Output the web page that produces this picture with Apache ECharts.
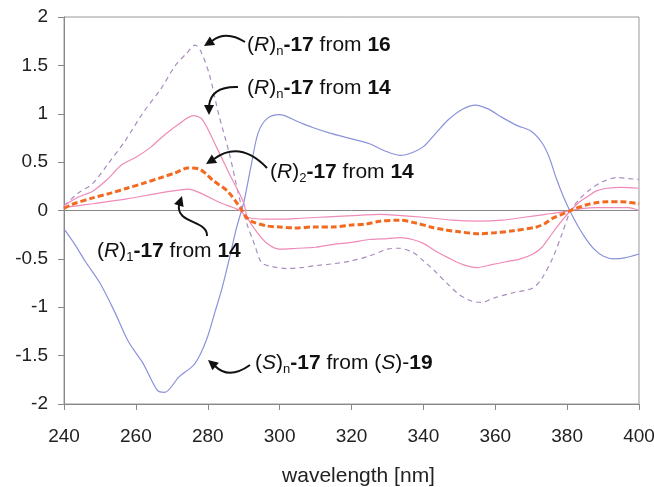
<!DOCTYPE html>
<html>
<head>
<meta charset="utf-8">
<script src="https://cdn.jsdelivr.net/npm/echarts@6/dist/echarts.min.js"></script>
<style>
html,body{margin:0;padding:0;background:#fff;}
#chart{width:654px;height:487px;}
</style>
</head>
<body>
<div id="chart"></div>
<script>
// ---- data ----
const xTicks = [240, 260, 280, 300, 320, 340, 360, 380, 400];
const yTicks = [-2, -1.5, -1, -0.5, 0, 0.5, 1, 1.5, 2];

// (S)n-17 from (S)-19 (blue)
const wlS = [240,243,246,250,254,258,262,266,268,272,276,278,280,282,284,286,288,290,292,294,296.5,300,305,309,314,319,325,329,333.5,337,340,343,347,351,354.5,358,362,366,370,373,375,377,379,381,383,385,387.5,390,393,396,400];
const valS = [-0.19,-0.35,-0.53,-0.75,-1.04,-1.36,-1.58,-1.86,-1.88,-1.72,-1.6,-1.48,-1.3,-1.05,-0.8,-0.5,-0.18,0.08,0.45,0.8,0.95,0.99,0.92,0.86,0.8,0.75,0.69,0.62,0.57,0.6,0.66,0.78,0.94,1.05,1.09,1.05,0.96,0.88,0.82,0.7,0.55,0.33,0.14,-0.02,-0.16,-0.28,-0.4,-0.47,-0.5,-0.49,-0.45];

// (R)n-17 from 16 (purple dashed)
const wlR16 = [240,244,248,252,257,262,267,271,274,276.5,278,280.5,283,286,289,291,293,295,298,302,306,310,315,320,325,330,333,337,340,343,346.5,350,353,356,360,365,370.5,373,376,378.5,381,383.5,386.5,390,394,397,400];
const valR16 = [0.05,0.18,0.28,0.47,0.72,1.01,1.26,1.5,1.62,1.71,1.65,1.4,1.0,0.59,0.1,-0.15,-0.35,-0.54,-0.58,-0.6,-0.59,-0.57,-0.55,-0.52,-0.47,-0.4,-0.39,-0.43,-0.52,-0.62,-0.75,-0.87,-0.93,-0.95,-0.9,-0.85,-0.8,-0.7,-0.49,-0.25,0,0.12,0.22,0.3,0.34,0.33,0.32];

// (R)n-17 from 14 (pink, upper)
const wlRn14 = [240,244,248,252,256,260,264,267,271.5,276,278.5,282.5,286,290,291,294,296.5,300,305,310,315,320,325,330,333.5,337,340,343,347,351,355,359,363,367,370.5,373,375,378,381,383.5,385.5,388,391,395,400];
const valRn14 = [0.05,0.14,0.2,0.32,0.47,0.55,0.65,0.75,0.88,0.98,0.94,0.65,0.38,0.08,-0.07,-0.24,-0.34,-0.4,-0.39,-0.38,-0.35,-0.33,-0.3,-0.29,-0.28,-0.3,-0.34,-0.41,-0.49,-0.56,-0.59,-0.56,-0.53,-0.5,-0.45,-0.38,-0.28,-0.13,0,0.09,0.14,0.2,0.23,0.24,0.23];

// (R)2-17 from 14 (orange dashed)
const wlR2 = [240,242,248,253,257.5,262,267,271,274.5,277.5,279.5,281.5,285.5,289,290.5,292,296.5,300,304,310,315,320,324,328,333.5,338,342,346,350,355.5,360,365,371.5,374,376,378.5,381,383,385.5,388,391,395,400];
const valR2 = [0.02,0.06,0.13,0.18,0.23,0.28,0.34,0.39,0.44,0.43,0.38,0.31,0.2,0.03,-0.06,-0.11,-0.16,-0.17,-0.18,-0.17,-0.17,-0.15,-0.14,-0.11,-0.1,-0.13,-0.17,-0.2,-0.22,-0.24,-0.23,-0.21,-0.17,-0.13,-0.08,-0.04,0,0.03,0.06,0.08,0.09,0.09,0.07];

// (R)1-17 from 14 (pink, lower)
const wlR1 = [240,248,257.5,266.5,272,274.5,278,283.5,289,291,296,301,306,311,316,322,328,333,340,348,355,362,368,374,378,381,384,388,393,397,400];
const valR1 = [0.03,0.07,0.12,0.18,0.21,0.22,0.18,0.08,0,-0.07,-0.09,-0.09,-0.08,-0.07,-0.06,-0.05,-0.04,-0.05,-0.07,-0.1,-0.11,-0.1,-0.07,-0.04,-0.02,0,0.02,0.03,0.03,0.03,0.0];

const xTitle = 'wavelength [nm]';

// ---- chart ----
function zip(a, b) { return a.map((v, i) => [v, b[i]]); }
const FONT = '"Liberation Sans", Arial, Helvetica, sans-serif';

const chart = echarts.init(document.getElementById('chart'), null, {renderer: 'canvas'});

const FS = 21;
const rich = {
  it: {fontStyle: 'italic', fontSize: FS, fontFamily: FONT, fill: '#111'},
  sub: {fontSize: 13, fontFamily: FONT, padding: [12, 0, 0, 0], fill: '#111'},
  b: {fontWeight: 'bold', fontSize: FS, fontFamily: FONT, fill: '#111'}
};
function label(x, y, text) {
  return {
    type: 'text', x: x, y: y, silent: true, z: 100,
    style: {
      text: text, rich: rich, fontSize: FS, fontFamily: FONT, fill: '#111',
      align: 'left', verticalAlign: 'middle', textAlign: 'left', textVerticalAlign: 'middle'
    }
  };
}
function head(tipX, tipY, fromX, fromY) {
  const dx = tipX - fromX, dy = tipY - fromY;
  const L = Math.sqrt(dx*dx + dy*dy) || 1;
  const ux = dx / L, uy = dy / L;
  const len = 10, hw = 5;
  const bx = tipX - ux*len, by = tipY - uy*len;
  return {
    type: 'polygon', silent: true, z: 100,
    shape: {points: [[tipX, tipY], [bx - uy*hw, by + ux*hw], [bx + uy*hw, by - ux*hw]]},
    style: {fill: '#111'}
  };
}
function curveQ(x1, y1, cx, cy, x2, y2) {
  return {type: 'bezierCurve', silent: true, z: 100,
    shape: {x1: x1, y1: y1, x2: x2, y2: y2, cpx1: cx, cpy1: cy},
    style: {stroke: '#111', lineWidth: 2, fill: null}};
}
function curveC(x1, y1, c1x, c1y, c2x, c2y, x2, y2) {
  return {type: 'bezierCurve', silent: true, z: 100,
    shape: {x1: x1, y1: y1, x2: x2, y2: y2, cpx1: c1x, cpy1: c1y, cpx2: c2x, cpy2: c2y},
    style: {stroke: '#111', lineWidth: 2, fill: null}};
}

const graphics = [
  label(247, 45, '({it|R}){sub|n}{b|-17} from {b|16}'),
  curveQ(245, 42, 226, 30, 212, 41), head(204, 46, 212, 41),
  label(247, 88, '({it|R}){sub|n}{b|-17} from {b|14}'),
  curveQ(238, 87, 211, 86, 209, 106), head(209, 115, 209, 106),
  label(270, 172, '({it|R}){sub|2}{b|-17} from {b|14}'),
  curveQ(267, 168, 240, 140, 214, 159), head(206, 164, 214, 159),
  label(97, 251, '({it|R}){sub|1}{b|-17} from {b|14}'),
  curveC(207, 236, 208, 220, 176, 224, 179, 205), head(182, 196, 179, 205),
  label(255, 363, '({it|S}){sub|n}{b|-17} from ({it|S})-{b|19}'),
  curveQ(250, 365, 229, 380, 215, 366), head(208, 360, 215, 366)
];

function lineSeries(name, data, color, width, type, z) {
  return {
    name: name, type: 'line', data: data, showSymbol: false, symbol: 'none',
    smooth: 0.3, z: z, silent: true,
    lineStyle: {color: color, width: width, type: type},
    emphasis: {disabled: true}
  };
}

const option = {
  backgroundColor: '#fff',
  animation: false,
  grid: {left: 64, right: 15, top: 17, bottom: 83, show: true, borderColor: '#999', borderWidth: 1,
    backgroundColor: 'transparent', containLabel: false, outerBoundsMode: 'none'},
  xAxis: {
    type: 'value', min: xTicks[0], max: xTicks[xTicks.length - 1], interval: 20,
    name: xTitle, nameLocation: 'middle', nameGap: 62,
    nameTextStyle: {fontSize: 21, color: '#222', fontFamily: FONT, padding: [0, 0, 0, 14]},
    axisLine: {show: true, onZero: false, lineStyle: {color: '#888', width: 1}},
    axisTick: {show: true, inside: false, length: 6, lineStyle: {color: '#888'}},
    axisLabel: {fontSize: 19, color: '#222', fontFamily: FONT, margin: 23},
    splitLine: {show: false}
  },
  yAxis: {
    type: 'value', min: yTicks[0], max: yTicks[yTicks.length - 1], interval: 0.5,
    axisLine: {show: true, lineStyle: {color: '#888', width: 1}},
    axisTick: {show: true, inside: false, length: 6, lineStyle: {color: '#888'}},
    axisLabel: {fontSize: 19, color: '#222', fontFamily: FONT, margin: 16},
    splitLine: {show: false}
  },
  graphic: graphics,
  series: [
    Object.assign(lineSeries('(S)n-17 from (S)-19', zip(wlS, valS), '#8b92dc', 1.2, 'solid', 2), {
      markLine: {silent: true, symbol: 'none', label: {show: false},
        lineStyle: {color: '#888', width: 1, type: 'solid'}, data: [{yAxis: 0}], z: 1}
    }),
    lineSeries('(R)n-17 from 16', zip(wlR16, valR16), '#a88bbf', 1.2, [5, 4], 3),
    lineSeries('(R)n-17 from 14', zip(wlRn14, valRn14), '#f08ab8', 1.2, 'solid', 3),
    lineSeries('(R)1-17 from 14', zip(wlR1, valR1), '#f08ab8', 1.2, 'solid', 3),
    lineSeries('(R)2-17 from 14', zip(wlR2, valR2), '#f26a1f', 3, [6, 3], 4)
  ]
};
chart.setOption(option);
</script>
</body>
</html>
